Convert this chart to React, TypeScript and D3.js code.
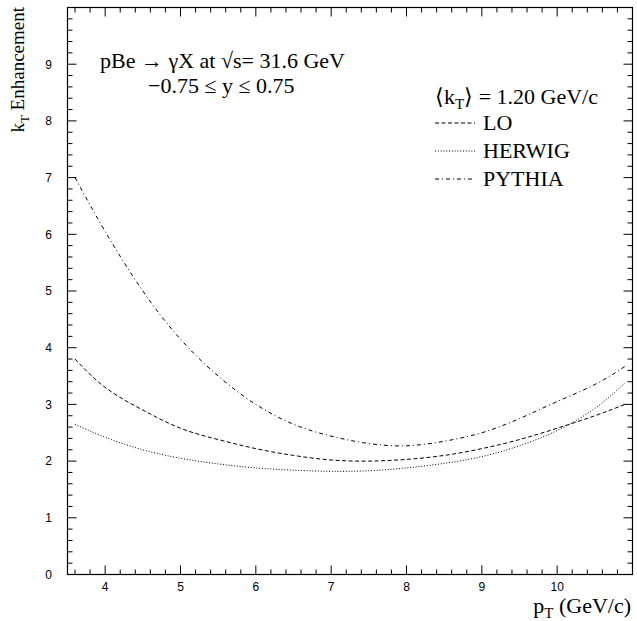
import React from "react";
import * as d3 from "d3";

const ptValues = [3.6, 4, 4.5, 5, 5.5, 6, 6.5, 7, 7.5, 8, 8.5, 9, 9.5, 10, 10.5, 10.9];
const loValues = [3.8, 3.3, 2.9, 2.58, 2.38, 2.22, 2.1, 2.02, 2.0, 2.03, 2.1, 2.22, 2.38, 2.58, 2.8, 3.0];
const herwigValues = [2.65, 2.42, 2.2, 2.05, 1.95, 1.88, 1.84, 1.82, 1.83, 1.88, 1.96, 2.08, 2.27, 2.54, 2.93, 3.38];
const pythiaValues = [7.0, 6.05, 5.0, 4.15, 3.5, 3.0, 2.65, 2.44, 2.31, 2.27, 2.35, 2.5, 2.75, 3.05, 3.35, 3.67];
const xTickLabels = [4, 5, 6, 7, 8, 9, 10];
const yTickLabels = [0, 1, 2, 3, 4, 5, 6, 7, 8, 9];
const seriesNames = ["LO", "HERWIG", "PYTHIA"];
const seriesDash = ["4,2.5", "1,1.8", "4,3,1,3"];

const W = 637, H = 621;
const L = 67.5, R = 632.5, T = 7.5, B = 574.5;

export default function App() {
  const x = d3.scaleLinear().domain([3.5, 11]).range([L, R]);
  const y = d3.scaleLinear().domain([0, 10]).range([B, T]);
  const line = d3
    .line<[number, number]>()
    .x((d) => x(d[0]))
    .y((d) => y(d[1]))
    .curve(d3.curveNatural);
  const series = [loValues, herwigValues, pythiaValues];

  const xMinor = d3.range(3.6, 10.99, 0.2).map((v) => +v.toFixed(1));
  const yMinor = d3.range(0.2, 9.99, 0.2).map((v) => +v.toFixed(1));
  const isMajor = (v: number) => Math.abs(v - Math.round(v)) < 1e-6;

  const serif = "'Liberation Serif', 'Times New Roman', serif";
  const sans = "'Liberation Sans', Arial, Helvetica, sans-serif";

  return (
    <svg
      width={W}
      height={H}
      style={{ position: "absolute", left: 0, top: 0, background: "#fff" }}
    >
      <rect x={0} y={0} width={W} height={H} fill="#fff" />
      {/* frame */}
      <rect x={L} y={T} width={R - L} height={B - T} fill="none" stroke="#000" strokeWidth={1.2} />
      {/* ticks */}
      {xMinor.map((v) => {
        const len = isMajor(v) ? 9 : 5;
        return (
          <g key={"xt" + v}>
            <line x1={x(v)} x2={x(v)} y1={B} y2={B - len} stroke="#000" strokeWidth={1} />
            <line x1={x(v)} x2={x(v)} y1={T} y2={T + len} stroke="#000" strokeWidth={1} />
          </g>
        );
      })}
      {yMinor.map((v) => {
        const len = isMajor(v) ? 9 : 5;
        return (
          <g key={"yt" + v}>
            <line x1={L} x2={L + len} y1={y(v)} y2={y(v)} stroke="#000" strokeWidth={1} />
            <line x1={R} x2={R - len} y1={y(v)} y2={y(v)} stroke="#000" strokeWidth={1} />
          </g>
        );
      })}
      {xTickLabels.map((v) => (
        <text key={"xl" + v} x={x(v)} y={591} textAnchor="middle" fontFamily={sans} fontSize={12}>
          {v}
        </text>
      ))}
      {yTickLabels.map((v) => (
        <text key={"yl" + v} x={52} y={y(v) + 4.3} textAnchor="end" fontFamily={sans} fontSize={12}>
          {v}
        </text>
      ))}
      {/* axis titles */}
      <text
        transform={`translate(24,7) rotate(-90)`}
        textAnchor="end"
        fontFamily={serif}
        fontSize={19}
      >
        k<tspan dy={5} fontSize={13}>T</tspan>
        <tspan dy={-5}> Enhancement</tspan>
      </text>
      <text x={631} y={613} textAnchor="end" fontFamily={serif} fontSize={22}>
        p<tspan dy={5} fontSize={15}>T</tspan>
        <tspan dy={-5}> (GeV/c)</tspan>
      </text>
      {/* annotation */}
      <text x={100} y={68} fontFamily={serif} fontSize={22}>
        pBe → γX at √s= 31.6 GeV
      </text>
      <text x={148} y={93} fontFamily={serif} fontSize={22}>
        −0.75 ≤ y ≤ 0.75
      </text>
      {/* legend */}
      <text x={435} y={104} fontFamily={serif} fontSize={22}>
        ⟨k<tspan dy={5} fontSize={15}>T</tspan>
        <tspan dy={-5}>⟩ = 1.20 GeV/c</tspan>
      </text>
      {seriesNames.map((name, i) => {
        const ly = 123 + i * 28;
        return (
          <g key={name}>
            <line x1={435} x2={475} y1={ly} y2={ly} stroke="#000" strokeWidth={1} strokeDasharray={seriesDash[i]} />
            <text x={483} y={ly + 7} fontFamily={serif} fontSize={22}>
              {name}
            </text>
          </g>
        );
      })}
      {/* curves */}
      {series.map((vals, i) => (
        <path
          key={"s" + i}
          d={line(ptValues.map((p, j) => [p, vals[j]] as [number, number])) || ""}
          fill="none"
          stroke="#000"
          strokeWidth={1}
          strokeDasharray={seriesDash[i]}
        />
      ))}
    </svg>
  );
}
